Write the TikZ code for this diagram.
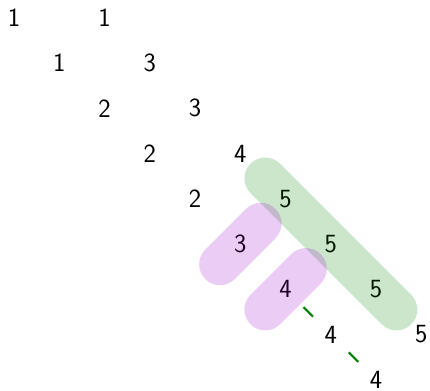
\documentclass[tikz,border=0pt]{standalone}
\usetikzlibrary{calc}
\definecolor{bandgreen}{RGB}{0,128,0}
\definecolor{bandpurple}{RGB}{153,0,204}
\tikzset{
  band/.style={line width=0.92cm, line cap=round, draw opacity=0.2},
  link/.style={bandgreen, line width=1.4pt, shorten <=0.56cm, shorten >=0.56cm}
}
\begin{document}
\begin{tikzpicture}[font=\sffamily\fontsize{16.5}{20}\selectfont]
  \useasboundingbox (-0.31,0.39) rectangle (9.19,-8.23);

  % --- left diagonal ---
  \node (a0) at (0,0) {1};
  \node (a1) at (1,-1) {1};
  \node (a2) at (2,-2) {2};
  \node (a3) at (3,-3) {2};
  \node (a4) at (4,-4) {2};
  \node (a5) at (5,-5) {3};
  \node (a6) at (6,-6) {4};
  \node (a7) at (7,-7) {4};
  \node (a8) at (8,-8) {4};

  % --- right diagonal ---
  \node (b0) at (2,0) {1};
  \node (b1) at (3,-1) {3};
  \node (b2) at (4,-2) {3};
  \node (b3) at (5,-3) {4};
  \node (b4) at (6,-4) {5};
  \node (b5) at (7,-5) {5};
  \node (b6) at (8,-6) {5};
  \node (b7) at (9,-7) {5};

  % --- links between the 4s ---
  \draw[link] (a6.center) -- (a7.center);
  \draw[link] (a7.center) -- (a8.center);

  % --- bands ---
  \draw[band, bandgreen] ($(b4)+(-0.45,0.45)$) -- ($(b6)+(0.45,-0.45)$);
  \draw[band, bandpurple] ($(a5)+(0.45,0.45)$) -- ($(a5)+(-0.45,-0.45)$);
  \draw[band, bandpurple] ($(a6)+(0.45,0.45)$) -- ($(a6)+(-0.45,-0.45)$);

\end{tikzpicture}
\end{document}
